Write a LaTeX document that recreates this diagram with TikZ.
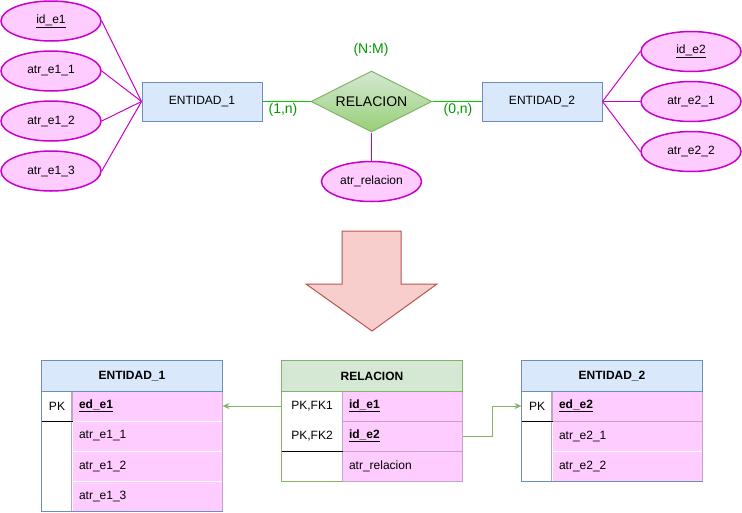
\documentclass[tikz,border=0pt]{standalone}
\usepackage{fontspec}
\setmainfont{Liberation Sans}
\usetikzlibrary{positioning, shapes.geometric, arrows.meta}

\definecolor{attrfill}{HTML}{FFCCFF}
\definecolor{attrline}{HTML}{CC00CC}
\definecolor{entfill}{HTML}{DAE8FC}
\definecolor{entline}{HTML}{6C8EBF}
\definecolor{relfill}{HTML}{D5E8D4}
\definecolor{relfilldark}{HTML}{97D077}
\definecolor{relline}{HTML}{82B366}
\definecolor{cardline}{HTML}{00CC00}
\definecolor{cardtext}{HTML}{009900}
\definecolor{arrowfill}{HTML}{F8CECC}
\definecolor{arrowline}{HTML}{B85450}
\definecolor{cellline}{HTML}{C3A3C9}

\tikzset{
    every node/.style = {font = \fontsize{12}{14}\selectfont, line width = 1pt},
    attr/.style = {shape = ellipse, draw = attrline, fill = attrfill, line width = 1.5pt,
        minimum width = 100pt, minimum height = 40pt, inner sep = 0pt},
    entity/.style = {shape = rectangle, draw = entline, fill = entfill,
        minimum width = 120pt, minimum height = 39pt},
    relation/.style = {shape = diamond, aspect = 2, draw = relline, top color = relfill, bottom color = relfilldark,
        minimum width = 121pt, minimum height = 61pt, inner sep = 0pt, font = \fontsize{14}{16}\selectfont},
    card/.style = {text = cardtext, font = \fontsize{14}{16}\selectfont},
    attrlink/.style = {draw = attrline, line width = 1pt},
    cardlink/.style = {draw = cardline, line width = 1pt},
    tablehead/.style = {shape = rectangle, minimum width = 180pt, minimum height = 30pt,
        font = \fontsize{12}{14}\selectfont\bfseries},
    keycell/.style = {shape = rectangle, fill = white, minimum width = #1, minimum height = 30pt},
    keycell/.default = 30pt,
    fieldcell/.style = {shape = rectangle, fill = attrfill, draw = cellline, text width = #1,
        inner xsep = 7pt, minimum height = 30pt, align = left},
    fieldcell/.default = 136pt,
    fk/.style = {draw = relline, line width = 1pt, -{Stealth[length = 7pt, width = 6pt]}}
}

\begin{document}
\begin{tikzpicture}[x = 1pt, y = -1pt]
    \useasboundingbox (0, 0) rectangle (742, 512);

    % modelo entidad-relacion
    \node [attr] (ide1) at (51, 21) {\underline{id\_e1}};
    \node [attr] (ae11) at (51, 71) {atr\_e1\_1};
    \node [attr] (ae12) at (51, 121) {atr\_e1\_2};
    \node [attr] (ae13) at (51, 171) {atr\_e1\_3};
    \node [entity] (ent1) at (202, 101.5) {ENTIDAD\_1};
    \node [relation] (rel) at (371.5, 101.5) {RELACION};
    \node [entity] (ent2) at (542, 101.5) {ENTIDAD\_2};
    \node [attr] (arel) at (371.5, 181.5) {atr\_relacion};
    \node [attr] (ide2) at (691, 51.5) {\underline{id\_e2}};
    \node [attr] (ae21) at (691, 101.5) {atr\_e2\_1};
    \node [attr] (ae22) at (691, 151.5) {atr\_e2\_2};
    \node [card] (nm) at (371, 50) {(N:M)};
    \node [card] (c1) at (283, 110) {(1,n)};
    \node [card] (c2) at (458, 110) {(0,n)};

    \draw [attrlink] (ide1.east) -- (ent1.west);
    \draw [attrlink] (ae11.east) -- (ent1.west);
    \draw [attrlink] (ae12.east) -- (ent1.west);
    \draw [attrlink] (ae13.east) -- (ent1.west);
    \draw [attrlink] (ent2.east) -- (ide2.west);
    \draw [attrlink] (ent2.east) -- (ae21.west);
    \draw [attrlink] (ent2.east) -- (ae22.west);
    \draw [attrlink] (rel.south) -- (arel.north);
    \draw [cardlink] (ent1.east) -- (rel.west);
    \draw [cardlink] (rel.east) -- (ent2.west);

    % flecha de paso a tablas
    \draw [draw = arrowline, fill = arrowfill, line width = 1pt]
        (342, 231) -- (401, 231) -- (401, 284) -- (437, 284) -- (372, 331)
        -- (306, 284) -- (342, 284) -- cycle;

    % tabla ENTIDAD_1
    \node [tablehead, fill = entfill] (t1h) at (132, 376) {ENTIDAD\_1};
    \node [keycell] (t1pk) at (57, 406) {PK};
    \node [fieldcell] (t1f1) at (147, 406) {\textbf{\underline{ed\_e1}}};
    \node [fieldcell, draw = white] (t1f2) at (147, 436) {atr\_e1\_1};
    \node [fieldcell, draw = white] (t1f3) at (147, 466) {atr\_e1\_2};
    \node [fieldcell, draw = white] (t1f4) at (147, 496) {atr\_e1\_3};
    \draw [cellline, line width = 1pt] (t1f1.north west) -- (t1f4.south west);
    \draw [cellline, line width = 1pt] (t1f1.north east) -- (t1f4.south east);
    \draw [line width = 1pt] (t1pk.south west) -- (t1pk.south east);
    \draw [entline, line width = 1pt] (t1h.south west) -- (t1h.south east);
    \draw [entline, line width = 1pt] (t1f4.south east) -- (t1pk.west |- t1f4.south)
        -- (t1h.north west) -- (t1h.north east) -- (t1h.south east);

    % tabla RELACION
    \node [tablehead, fill = relfill] (trh) at (372, 376) {RELACION};
    \node [keycell = 60pt] (trpk1) at (312, 406) {PK,FK1};
    \node [keycell = 60pt] (trpk2) at (312, 436) {PK,FK2};
    \node [fieldcell = 106pt] (trf1) at (402, 406) {\textbf{\underline{id\_e1}}};
    \node [fieldcell = 106pt] (trf2) at (402, 436) {\textbf{\underline{id\_e2}}};
    \node [fieldcell = 106pt] (trf3) at (402, 466) {atr\_relacion};
    \draw [line width = 1pt] (trpk2.south west) -- (trpk2.south east);
    \draw [relline, line width = 1pt] (trh.south west) -- (trh.south east);
    \draw [relline, line width = 1pt] (trf3.south west) -- (trpk1.west |- trf3.south)
        -- (trh.north west) -- (trh.north east) -- (trh.south east);

    % tabla ENTIDAD_2
    \node [tablehead, fill = entfill] (t2h) at (612, 376) {ENTIDAD\_2};
    \node [keycell] (t2pk) at (537, 406) {PK};
    \node [fieldcell] (t2f1) at (627, 406) {\textbf{\underline{ed\_e2}}};
    \node [fieldcell, draw = white] (t2f2) at (627, 436) {atr\_e2\_1};
    \node [fieldcell, draw = white] (t2f3) at (627, 466) {atr\_e2\_2};
    \draw [cellline, line width = 1pt] (t2f1.north west) -- (t2f3.south west);
    \draw [cellline, line width = 1pt] (t2f1.north east) -- (t2f3.south east);
    \draw [cellline, line width = 1pt] (t2f1.south west) -- (t2f1.south east);
    \draw [line width = 1pt] (t2pk.south west) -- (t2pk.south east);
    \draw [entline, line width = 1pt] (t2h.south west) -- (t2h.south east);
    \draw [entline, line width = 1pt] (t2f3.south east) -- (t2pk.west |- t2f3.south)
        -- (t2h.north west) -- (t2h.north east) -- (t2h.south east);

    % claves foraneas
    \draw [fk] (trpk1.west) -- (t1f1.east);
    \draw [fk] (trf2.east) -- ++(30, 0) |- (t2pk.west);
\end{tikzpicture}
\end{document}
